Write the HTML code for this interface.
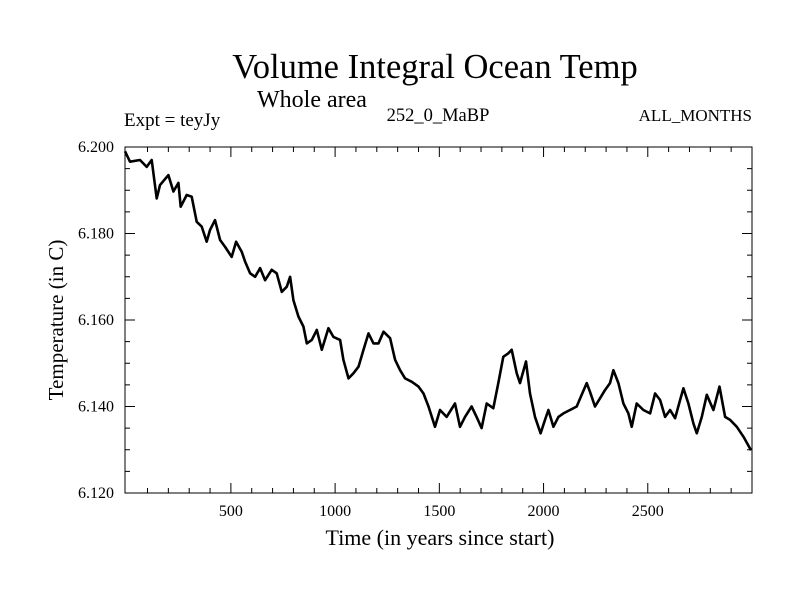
<!DOCTYPE html>
<html><head><meta charset="utf-8"><style>
body{margin:0;background:#fff}
svg text{font-family:"Liberation Serif",serif;fill:#000}
</style></head><body>
<svg width="800" height="600" viewBox="0 0 800 600">
<text x="435" y="78" font-size="34.5" text-anchor="middle">Volume Integral Ocean Temp</text>
<text x="312" y="107" font-size="24" text-anchor="middle">Whole area</text>
<text x="124" y="126" font-size="19">Expt = teyJy</text>
<text x="438" y="121" font-size="18.5" text-anchor="middle">252_0_MaBP</text>
<text x="752" y="121" font-size="17" text-anchor="end">ALL_MONTHS</text>
<rect x="125" y="147" width="627" height="346" fill="none" stroke="#000" stroke-width="1"/>
<g id="ticks"></g>
<g id="labels"></g>
<path id="series" fill="none" stroke="#000" stroke-width="2.6" stroke-linejoin="round"/>
<text x="440" y="545" font-size="22" text-anchor="middle">Time (in years since start)</text>
<text transform="translate(63,320) rotate(-90)" font-size="21" text-anchor="middle">Temperature (in C)</text>
</svg>
<script>
const years=[-8,16,64,96,120,144,160,200,224,248,259,288,312,336,360,384,400,424,448,472,504,525,552,568,592,616,640,664,696,720,744,768,784,800,824,848,864,888,912,936,968,992,1024,1040,1064,1088,1112,1136,1160,1184,1208,1232,1264,1288,1312,1336,1368,1400,1424,1448,1479,1503,1535,1575,1599,1623,1655,1679,1703,1727,1759,1783,1807,1831,1847,1871,1887,1916,1935,1959,1986,2007,2023,2047,2071,2095,2127,2159,2183,2207,2223,2247,2271,2295,2319,2335,2359,2383,2407,2423,2447,2479,2511,2535,2559,2583,2607,2631,2655,2671,2695,2719,2735,2759,2783,2815,2844,2871,2895,2927,2959,2995];
const temps=[6.1990,6.1966,6.1970,6.1954,6.1970,6.1881,6.1912,6.1935,6.1897,6.1917,6.1862,6.1889,6.1885,6.1827,6.1816,6.1781,6.1808,6.1831,6.1785,6.1769,6.1746,6.1781,6.1758,6.1735,6.1708,6.1700,6.1720,6.1692,6.1716,6.1708,6.1665,6.1677,6.1700,6.1646,6.1608,6.1585,6.1546,6.1554,6.1577,6.1531,6.1581,6.1561,6.1554,6.1508,6.1465,6.1477,6.1492,6.1531,6.1569,6.1546,6.1546,6.1573,6.1558,6.1508,6.1484,6.1465,6.1457,6.1446,6.1430,6.1400,6.1353,6.1392,6.1376,6.1407,6.1353,6.1376,6.1400,6.1376,6.1350,6.1407,6.1396,6.1454,6.1515,6.1523,6.1531,6.1477,6.1454,6.1504,6.1430,6.1376,6.1338,6.1369,6.1392,6.1353,6.1376,6.1384,6.1392,6.1400,6.1427,6.1454,6.1434,6.1400,6.1419,6.1438,6.1454,6.1484,6.1454,6.1407,6.1384,6.1353,6.1407,6.1392,6.1384,6.1430,6.1415,6.1376,6.1392,6.1373,6.1415,6.1442,6.1407,6.1361,6.1338,6.1376,6.1427,6.1392,6.1446,6.1376,6.1369,6.1353,6.1330,6.1299];
const xTicks=[500,1000,1500,2000,2500];
const yTicks=[6.120,6.140,6.160,6.180,6.200];
const X0=125,X1=752,Y0=493,Y1=147,XMIN=-8,XMAX=3000,YMIN=6.12,YMAX=6.2;
const sx=v=>X0+(v-XMIN)/(XMAX-XMIN)*(X1-X0);
const sy=v=>Y0-(v-YMIN)/(YMAX-YMIN)*(Y0-Y1);
const NS='http://www.w3.org/2000/svg';
const tg=document.getElementById('ticks'),lg=document.getElementById('labels');
function line(x1,y1,x2,y2){const l=document.createElementNS(NS,'line');l.setAttribute('x1',x1);l.setAttribute('y1',y1);l.setAttribute('x2',x2);l.setAttribute('y2',y2);l.setAttribute('stroke','#000');l.setAttribute('stroke-width','1');


tg.appendChild(l);}
for(let v=100;v<3000;v+=100){const x=sx(v);const L=(v%500===0)?10:5;line(x,Y0,x,Y0-L);line(x,Y1,x,Y1+L);}
for(let i=0;i<=16;i++){const v=YMIN+i*0.005;const y=sy(v);const L=(i%4===0)?10:5;line(X0,y,X0+L,y);line(X1,y,X1-L,y);}
xTicks.forEach(v=>{const t=document.createElementNS(NS,'text');t.setAttribute('x',sx(v));t.setAttribute('y',Y0+23);t.setAttribute('font-size','16');t.setAttribute('text-anchor','middle');t.textContent=v;


lg.appendChild(t);});
yTicks.forEach(v=>{const t=document.createElementNS(NS,'text');t.setAttribute('x',X0-11);t.setAttribute('y',sy(v)+5);t.setAttribute('font-size','16');t.setAttribute('text-anchor','end');t.textContent=v.toFixed(3);


lg.appendChild(t);});
let d='';years.forEach((yr,i)=>{d+=(i?'L':'M')+sx(Math.max(yr,XMIN)).toFixed(1)+','+sy(temps[i]).toFixed(1);});
document.getElementById('series').setAttribute('d',d);
</script>
</body></html>
